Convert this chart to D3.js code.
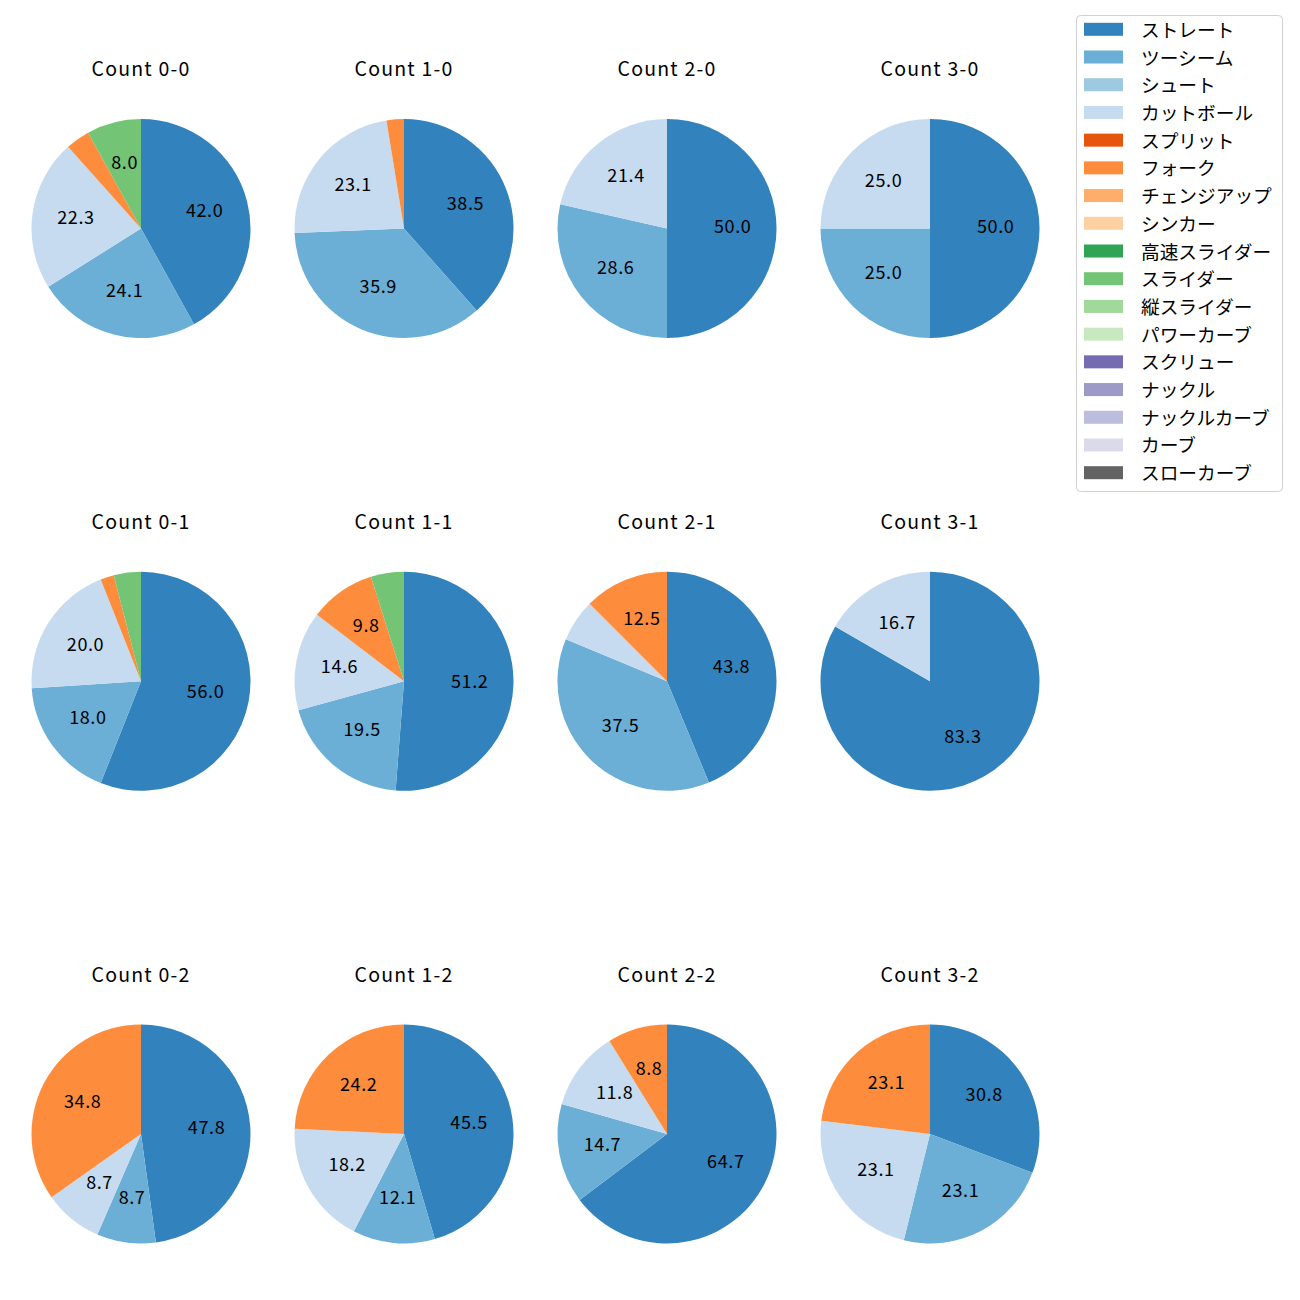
<!DOCTYPE html>
<html><head><meta charset="utf-8">
<script src="https://cdn.jsdelivr.net/npm/d3@7"></script>
<style>body{margin:0;background:#fff;} text{font-family:"Noto Sans CJK JP","Noto Sans",sans-serif;}</style>
</head><body>
<svg id="chart" width="1300" height="1300"></svg>
<script>
const pitchTypes = ["ストレート","ツーシーム","シュート","カットボール","スプリット","フォーク","チェンジアップ","シンカー","高速スライダー","スライダー","縦スライダー","パワーカーブ","スクリュー","ナックル","ナックルカーブ","カーブ","スローカーブ"];
const pitchColors = ["#3182bd","#6baed6","#9ecae1","#c6dbef","#e6550d","#fd8d3c","#fdae6b","#fdd0a2","#31a354","#74c476","#a1d99b","#c7e9c0","#756bb1","#9e9ac8","#bcbddc","#dadaeb","#636363"];
const countLabels = ["0-0","1-0","2-0","3-0","0-1","1-1","2-1","3-1","0-2","1-2","2-2","3-2"];
// pitch counts per ball-strike count (only non-zero pitch types)
const straight = [47,15,7,2,28,21,7,5,11,15,22,4];
const twoSeam  = [27,14,4,1, 9, 8,6,0, 2, 4, 5,3];
const cutter   = [25, 9,3,1,10, 6,1,1, 2, 6, 4,3];
const fork     = [ 4, 1,0,0, 1, 4,2,0, 8, 8, 3,3];
const slider   = [ 9, 0,0,0, 2, 2,0,0, 0, 0, 0,0];
const seriesByType = {"ストレート":straight,"ツーシーム":twoSeam,"カットボール":cutter,"フォーク":fork,"スライダー":slider};

const svg = d3.select("#chart");
const color = d3.scaleOrdinal().domain(pitchTypes).range(pitchColors);
const colX = d3.scalePoint().domain([0,1,2,3]).range([141,930]);
const rowY = d3.scalePoint().domain([0,1,2]).range([228.5,1134]);
const R = 109.5;
const arc = d3.arc().innerRadius(0).outerRadius(R);
const labelArc = d3.arc().innerRadius(R*0.6).outerRadius(R*0.6);
const pie = d3.pie().sort(null).value(d => d.v).startAngle(0).endAngle(2*Math.PI);

countLabels.forEach((c, i) => {
  const data = pitchTypes.filter(t => seriesByType[t]).map(t => ({t, v: seriesByType[t][i]})).filter(d => d.v > 0);
  const total = d3.sum(data, d => d.v);
  const cx = colX(i % 4), cy = rowY(Math.floor(i / 4));
  const g = svg.append("g").attr("transform", `translate(${cx},${cy})`);
  const arcs = pie(data);
  g.selectAll("path").data(arcs).join("path")
    .attr("d", arc).attr("fill", d => color(d.data.t));
  g.selectAll("text.lbl").data(arcs.filter(d => d.data.v / total * 100 >= 7)).join("text")
    .attr("class","lbl")
    .attr("transform", d => { const p = labelArc.centroid(d); return `translate(${p[0]},${p[1]-3.5})`; })
    .attr("text-anchor","middle").attr("dominant-baseline","central")
    .attr("font-size", 18).attr("letter-spacing", 0.6).attr("fill","#000")
    .text(d => (d.data.v / total * 100).toFixed(1));
  svg.append("text").attr("x", cx).attr("y", cy - 161)
    .attr("text-anchor","middle").attr("dominant-baseline","central")
    .attr("font-size", 19.5).attr("letter-spacing", 1.2).attr("fill","#000").text("Count " + c);
});

// legend
const lg = svg.append("g");
lg.append("rect").attr("x",1076.5).attr("y",15.5).attr("width",206).attr("height",476)
  .attr("rx",4).attr("fill","#fff").attr("stroke","#d0d0d0").attr("stroke-width",1);
const ly = d3.scaleLinear().domain([0, pitchTypes.length-1]).range([29.3, 472.7]);
pitchTypes.forEach((t, k) => {
  lg.append("rect").attr("x",1084).attr("y",ly(k)-6.5).attr("width",39).attr("height",13).attr("fill", color(t));
  lg.append("text").attr("x",1141).attr("y",ly(k)-1).attr("dominant-baseline","central")
    .attr("font-size",18.7).attr("fill","#000").text(t);
});
</script>
</body></html>
